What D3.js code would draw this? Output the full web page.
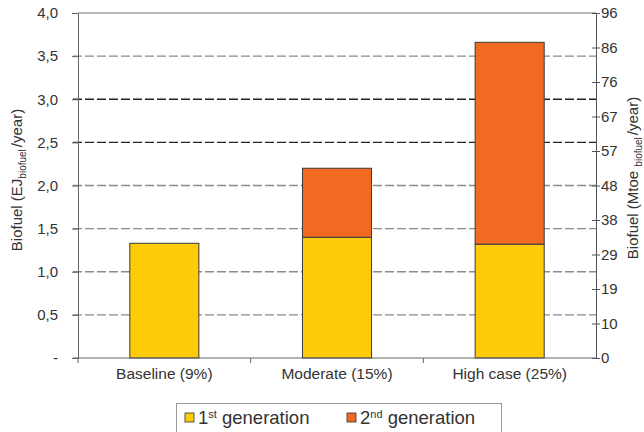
<!DOCTYPE html>
<html>
<head>
<meta charset="utf-8">
<script src="https://cdn.jsdelivr.net/npm/d3@7"></script>
<style>
  html, body { margin: 0; padding: 0; background: #fff; }
  svg { display: block; font-family: "Liberation Sans", Arial, sans-serif; }
</style>
</head>
<body>
<svg id="chart" width="644" height="432"></svg>
<script>
// Biofuel demand by scenario, EJ per year
const categories = ["Baseline (9%)", "Moderate (15%)", "High case (25%)"];
const firstGen = [1.33, 1.40, 1.32];
const secondGen = [0.00, 0.80, 2.34];
const seriesNames = ["1st generation", "2nd generation"];
const seriesColors = ["#FDCB07", "#F26922"];

// Left axis ticks (EJ) and their labels
const leftTicks = [0, 0.5, 1.0, 1.5, 2.0, 2.5, 3.0, 3.5, 4.0];
const leftTickLabels = ["-", "0,5", "1,0", "1,5", "2,0", "2,5", "3,0", "3,5", "4,0"];
// Right axis ticks sit every 0.4 EJ, labelled in Mtoe
const rightTicksEJ = [0, 0.4, 0.8, 1.2, 1.6, 2.0, 2.4, 2.8, 3.2, 3.6, 4.0];
const rightTickLabels = ["0", "10", "19", "29", "38", "48", "57", "67", "76", "86", "96"];
const darkGrid = [2.5, 3.0];

const svg = d3.select("#chart");
const m = { left: 78, right: 596, top: 13, bottom: 358 };
const textColor = "#333";

const x = d3.scaleBand().domain(categories).range([m.left, m.right])
  .paddingInner(0.6).paddingOuter(0.3);
const y = d3.scaleLinear().domain([0, 4]).range([m.bottom, m.top]);

// Horizontal dashed gridlines
svg.append("g").selectAll("line")
  .data(leftTicks.filter(d => d > 0 && d < 4))
  .join("line")
  .attr("x1", m.left - 5).attr("x2", m.right)
  .attr("y1", d => y(d)).attr("y2", d => y(d))
  .attr("stroke", d => darkGrid.includes(d) ? "#222" : "#8c8c8c")
  .attr("stroke-width", 1.4)
  .attr("stroke-dasharray", "9,3");

// Top border of the plot
svg.append("line")
  .attr("x1", m.left).attr("x2", m.right)
  .attr("y1", y(4)).attr("y2", y(4))
  .attr("stroke", "#777").attr("stroke-width", 1.2);

// Stacked bars
const stack = categories.map((c, i) => [
  { cat: c, y0: 0, y1: firstGen[i], s: 0 },
  { cat: c, y0: firstGen[i], y1: firstGen[i] + secondGen[i], s: 1 }
]).flat().filter(d => d.y1 > d.y0);

svg.append("g").selectAll("rect")
  .data(stack)
  .join("rect")
  .attr("x", d => x(d.cat))
  .attr("width", x.bandwidth())
  .attr("y", d => y(d.y1))
  .attr("height", d => y(d.y0) - y(d.y1))
  .attr("fill", d => seriesColors[d.s])
  .attr("stroke", "#3a3a3a")
  .attr("stroke-width", 1);

// Left axis
const leftAxis = d3.axisLeft(y).tickValues(leftTicks)
  .tickFormat((d, i) => leftTickLabels[i]).tickSize(6).tickPadding(14);
const gl = svg.append("g").attr("transform", `translate(${m.left},0)`).call(leftAxis);
gl.select(".domain").attr("stroke", "#666");
gl.selectAll(".tick line").attr("stroke", "#666");
gl.selectAll("text").attr("fill", textColor).style("font-size", "15px");

// Right axis (Mtoe)
const yR = d3.scaleLinear().domain([0, 4]).range([m.bottom, m.top]);
const rightAxis = d3.axisRight(yR).tickValues(rightTicksEJ)
  .tickFormat((d, i) => rightTickLabels[i]).tickSize(4).tickPadding(1);
const gr = svg.append("g").attr("transform", `translate(${m.right},0)`).call(rightAxis);
gr.select(".domain").attr("stroke", "#555");
gr.selectAll(".tick line").attr("stroke", "#555").attr("x1", -4);
gr.selectAll("text").attr("fill", textColor).style("font-size", "15px");

// Bottom axis
const xTicks = [m.left, m.left + (m.right - m.left) / 3, m.left + 2 * (m.right - m.left) / 3];
const gb = svg.append("g");
gb.append("line").attr("x1", m.left - 5).attr("x2", m.right)
  .attr("y1", m.bottom).attr("y2", m.bottom).attr("stroke", "#666");
gb.selectAll(".xt").data(xTicks).join("line").attr("class", "xt")
  .attr("x1", d => d).attr("x2", d => d)
  .attr("y1", m.bottom).attr("y2", m.bottom + 5).attr("stroke", "#666");
gb.selectAll("text").data(categories).join("text")
  .attr("x", d => x(d) + x.bandwidth() / 2)
  .attr("y", 379)
  .attr("text-anchor", "middle")
  .attr("fill", textColor)
  .style("font-size", "15.5px")
  .text(d => d);

// Axis titles with subscripts
function axisTitle(cx, cy, unit) {
  const t = svg.append("text")
    .attr("transform", `translate(${cx},${cy}) rotate(-90)`)
    .attr("text-anchor", "middle")
    .attr("fill", textColor)
    .style("font-size", "15px");
  t.append("tspan").text(`Biofuel (${unit}`);
  t.append("tspan").attr("dy", 4).style("font-size", "10px").text("biofuel");
  t.append("tspan").attr("dy", -4).attr("dx", 2).text("/year)");
}
axisTitle(22, 180, "EJ");
axisTitle(638, 178, "Mtoe ");

// Legend
const lg = svg.append("g");
lg.append("rect").attr("x", 176.5).attr("y", 403.5).attr("width", 325).attr("height", 40)
  .attr("fill", "#fff").attr("stroke", "#999");
const legendX = [185, 347];
seriesNames.forEach((name, i) => {
  lg.append("rect").attr("x", legendX[i]).attr("y", 413).attr("width", 9).attr("height", 9)
    .attr("fill", seriesColors[i]).attr("stroke", "#333").attr("stroke-width", 0.8);
  const t = lg.append("text").attr("x", legendX[i] + 13).attr("y", 424)
    .attr("fill", textColor).style("font-size", "18.5px");
  const parts = name.match(/^(\d)(\w+)\s(.*)$/);
  t.append("tspan").text(parts[1]);
  t.append("tspan").attr("dy", -6).style("font-size", "11px").text(parts[2]);
  t.append("tspan").attr("dy", 6).text(" " + parts[3]);
});
</script>
</body>
</html>
